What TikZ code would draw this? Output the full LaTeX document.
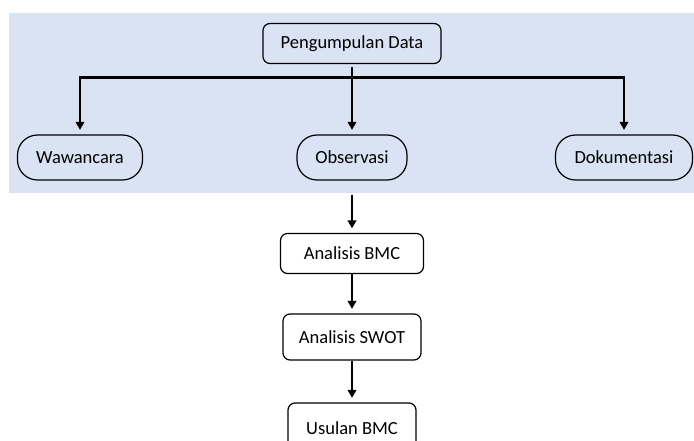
\documentclass[tikz,border=0pt]{standalone}
\usepackage{fontspec}
\setmainfont{Carlito}
\usetikzlibrary{arrows.meta}
\definecolor{panelblue}{HTML}{DAE3F3}
\begin{document}
\begin{tikzpicture}[
  x=1pt, y=1pt,
  box/.style={rectangle, draw, rounded corners=7pt, line width=1.2pt, minimum height=40pt},
  pill/.style={rectangle, draw, rounded corners=20pt, line width=1.2pt, minimum height=45pt},
  link/.style={line width=2.4pt},
  arrow/.style={link, -{Triangle[width=8.5pt,length=8pt]}, shorten >=4.5pt},
  node distance=114pt,
  font=\fontsize{18.5}{22}\selectfont
]
\useasboundingbox (0,0) rectangle (694,-441);
\clip (0,0) rectangle (694,-441);
\fill[panelblue] (9,-13) rectangle (700,-193);

\node[box, minimum width=178pt] (data) at (352,-43.5) {Pengumpulan Data};
\node[pill, below of=data, minimum width=110pt] (obs) {Observasi};
\node[pill, left of=obs, node distance=272pt, minimum width=125pt] (wawan) {Wawancara};
\node[pill, right of=obs, node distance=272pt, minimum width=137pt] (dok) {Dokumentasi};
\node[box, below of=obs, node distance=96pt, minimum width=143pt] (bmc) {Analisis BMC};
\node[box, below of=bmc, node distance=83.5pt, minimum width=138pt, minimum height=46pt] (swot) {Analisis SWOT};
\node[box, below of=swot, node distance=91pt, minimum width=128pt, minimum height=50pt] (usulan) {Usulan BMC};

\draw[link, shorten <=3pt] (data) -- ++(0,-34) coordinate (split);
\draw[arrow] (split) -- (obs);
\draw[arrow] (split) -| (wawan);
\draw[arrow] (split) -| (dok);
\draw[arrow, shorten <=14pt] (obs) -- (bmc);
\draw[arrow] (bmc) -- (swot);
\draw[arrow] (swot) -- (usulan);
\end{tikzpicture}
\end{document}
